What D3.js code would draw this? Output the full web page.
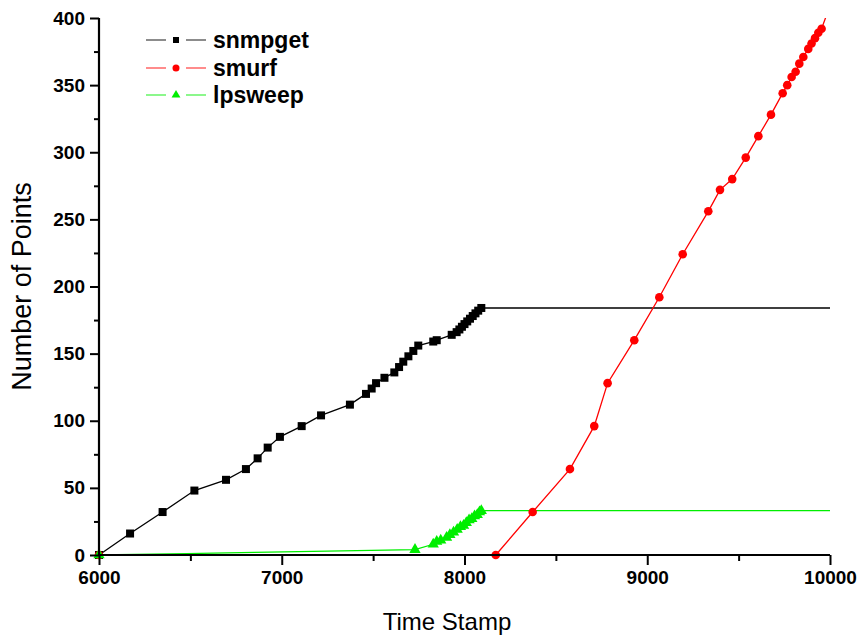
<!DOCTYPE html>
<html>
<head>
<meta charset="utf-8">
<script src="https://cdn.jsdelivr.net/npm/d3@7"></script>
<style>
  html, body { margin: 0; padding: 0; background: #fff; }
  svg { display: block; }
</style>
</head>
<body>
<svg id="chart" width="862" height="637"></svg>
<script>
// Cumulative number of points per attack over time
const snmpgetX = [6000, 6170, 6348, 6522, 6695, 6804, 6868, 6923, 6990, 7109, 7215, 7373, 7461, 7492, 7516, 7562, 7616, 7642, 7665, 7693, 7720, 7747, 7829, 7848, 7930, 7957, 7972, 7986, 8000, 8015, 8030, 8045, 8060, 8075, 8092];
const snmpgetY = [0, 16, 32, 48, 56, 64, 72, 80, 88, 96, 104, 112, 120, 124, 128, 132, 136, 140, 144, 148, 152, 156, 159, 160, 164, 166, 168, 170, 172, 174, 176, 178, 180, 182, 184];

const smurfX = [6000, 8171, 8373, 8577, 8710, 8783, 8929, 9066, 9194, 9334, 9398, 9465, 9539, 9608, 9677, 9741, 9766, 9790, 9812, 9832, 9854, 9881, 9899, 9918, 9936, 9954];
const smurfY = [0, 0, 32, 64, 96, 128, 160, 192, 224, 256, 272, 280, 296, 312, 328, 344, 350, 356, 360, 366, 371, 377, 381, 385, 389, 392];
// the smurf trace keeps rising past the top of the axis
const smurfTail = [10002, 410];

const ipsweepX = [6000, 6480, 6850, 7729, 7829, 7848, 7870, 7902, 7920, 7940, 7960, 7978, 7995, 8010, 8025, 8040, 8055, 8070, 8082, 8092];
const ipsweepY = [0, 1, 2, 4, 8, 10, 11, 13, 15, 17, 19, 21, 22, 24, 26, 27, 29, 30, 32, 33];
// only the counted events carry a marker; the early slow drift is line only
const ipsweepMarkerFrom = 3;

const seriesNames = ["snmpget", "smurf", "lpsweep"];
const seriesColors = ["#000000", "#ff0000", "#00ee00"];

const xDomain = [6000, 10000];
const yDomain = [0, 400];
const xMajor = [6000, 7000, 8000, 9000, 10000];
const xMinor = [6500, 7500, 8500, 9500];
const yMajor = [0, 50, 100, 150, 200, 250, 300, 350, 400];
const yMinor = [25, 75, 125, 175, 225, 275, 325, 375];

const xLabel = "Time Stamp";
const yLabel = "Number of Points";

const svg = d3.select("#chart");
const margin = { left: 99, right: 32, top: 18, bottom: 82 };
const W = 862, H = 637;

const x = d3.scaleLinear().domain(xDomain).range([margin.left, W - margin.right]);
const y = d3.scaleLinear().domain(yDomain).range([H - margin.bottom, margin.top]);

svg.append("defs").append("clipPath").attr("id", "plotClip")
  .append("rect")
  .attr("x", x(xDomain[0]) - 6).attr("y", y(yDomain[1]))
  .attr("width", x(xDomain[1]) - x(xDomain[0]) + 6)
  .attr("height", y(yDomain[0]) - y(yDomain[1]) + 6);

const line = d3.line().x(d => x(d[0])).y(d => y(d[1]));

function pts(xs, ys) { return xs.map((v, i) => [v, ys[i]]); }

const snmpget = pts(snmpgetX, snmpgetY);
const smurf = pts(smurfX, smurfY);
const ipsweep = pts(ipsweepX, ipsweepY);

const plot = svg.append("g").attr("clip-path", "url(#plotClip)");

// lines (snmpget and lpsweep hold their final count to the end of the window)
const snmpLast = snmpget[snmpget.length - 1];
const ipLast = ipsweep[ipsweep.length - 1];

plot.append("path")
  .attr("d", line(snmpget.concat([[xDomain[1], snmpLast[1]]])))
  .attr("fill", "none").attr("stroke", seriesColors[0]).attr("stroke-width", 1.3);

plot.append("path")
  .attr("d", line(smurf.concat([smurfTail])))
  .attr("fill", "none").attr("stroke", seriesColors[1]).attr("stroke-width", 1.3);

plot.append("path")
  .attr("d", line(ipsweep.concat([[xDomain[1], ipLast[1]]])))
  .attr("fill", "none").attr("stroke", seriesColors[2]).attr("stroke-width", 1.3);

// markers
const sqSize = 8;
plot.append("g").selectAll("rect").data(snmpget).join("rect")
  .attr("x", d => x(d[0]) - sqSize / 2).attr("y", d => y(d[1]) - sqSize / 2)
  .attr("width", sqSize).attr("height", sqSize)
  .attr("fill", seriesColors[0]);

plot.append("g").selectAll("circle").data(smurf).join("circle")
  .attr("cx", d => x(d[0])).attr("cy", d => y(d[1])).attr("r", 4.3)
  .attr("fill", seriesColors[1]);

const tri = d3.symbol().type(d3.symbolTriangle).size(55);
plot.append("g").selectAll("path")
  .data(ipsweep.filter((d, i) => i === 0 || i >= ipsweepMarkerFrom)).join("path")
  .attr("transform", d => `translate(${x(d[0])},${y(d[1])})`)
  .attr("d", tri)
  .attr("fill", seriesColors[2]);

// axes
const fontTick = "bold 19px 'Liberation Sans', Arial, sans-serif";

const xAxisMajor = d3.axisBottom(x).tickValues(xMajor).tickSize(10).tickPadding(6).tickFormat(d3.format("d"));
const xAxisMinor = d3.axisBottom(x).tickValues(xMinor).tickSize(6).tickFormat("");
const yAxisMajor = d3.axisLeft(y).tickValues(yMajor).tickSize(9).tickPadding(5).tickFormat(d3.format("d"));
const yAxisMinor = d3.axisLeft(y).tickValues(yMinor).tickSize(5).tickFormat("");

function styleAxis(g) {
  g.select(".domain").attr("stroke", "#000").attr("stroke-width", 2.2);
  g.selectAll(".tick line").attr("stroke", "#000").attr("stroke-width", 2);
  g.selectAll(".tick text").style("font", fontTick).attr("fill", "#000");
}

const gxMinor = svg.append("g").attr("transform", `translate(0,${y(0)})`).call(xAxisMinor).call(styleAxis);
gxMinor.select(".domain").remove();
svg.append("g").attr("transform", `translate(0,${y(0)})`).call(xAxisMajor).call(styleAxis)
  .select(".domain").attr("d", `M${x(xDomain[0])},0H${x(xDomain[1])}`);

const gyMinor = svg.append("g").attr("transform", `translate(${x(xDomain[0])},0)`).call(yAxisMinor).call(styleAxis);
gyMinor.select(".domain").remove();
svg.append("g").attr("transform", `translate(${x(xDomain[0])},0)`).call(yAxisMajor).call(styleAxis)
  .select(".domain").attr("d", `M0,${y(yDomain[0])}V${y(yDomain[1])}`);

// axis titles
svg.append("text")
  .attr("x", 447).attr("y", 630)
  .attr("text-anchor", "middle")
  .style("font", "24px 'Liberation Sans', Arial, sans-serif")
  .text(xLabel);

svg.append("text")
  .attr("transform", `translate(31,${(y(0) + y(400)) / 2}) rotate(-90)`)
  .attr("text-anchor", "middle")
  .style("font", "27px 'Liberation Sans', Arial, sans-serif")
  .text(yLabel);

// legend
const legend = svg.append("g");
const legendY = [40, 68, 95];
seriesNames.forEach((name, i) => {
  const g = legend.append("g").attr("transform", `translate(0,${legendY[i]})`);
  g.append("line").attr("x1", 146).attr("x2", 166).attr("y1", 0).attr("y2", 0)
    .attr("stroke", seriesColors[i]).attr("stroke-width", 1.2).attr("opacity", 0.75);
  g.append("line").attr("x1", 186).attr("x2", 206).attr("y1", 0).attr("y2", 0)
    .attr("stroke", seriesColors[i]).attr("stroke-width", 1.2).attr("opacity", 0.75);
  if (i === 0) {
    g.append("rect").attr("x", 173).attr("y", -3).attr("width", 6).attr("height", 6).attr("fill", seriesColors[i]);
  } else if (i === 1) {
    g.append("circle").attr("cx", 176).attr("cy", 0).attr("r", 3.5).attr("fill", seriesColors[i]);
  } else {
    g.append("path").attr("transform", "translate(176,0)").attr("d", d3.symbol().type(d3.symbolTriangle).size(34)).attr("fill", seriesColors[i]);
  }
  g.append("text").attr("x", 213).attr("y", 0).attr("dy", "0.35em")
    .style("font", "bold 23px 'Liberation Sans', Arial, sans-serif")
    .text(name);
});
</script>
</body>
</html>
